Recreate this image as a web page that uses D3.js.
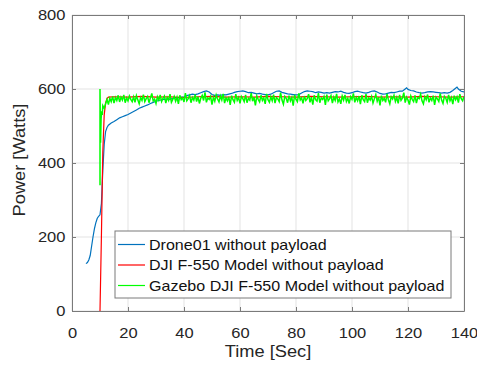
<!DOCTYPE html>
<html>
<head>
<meta charset="utf-8">
<script src="https://cdn.jsdelivr.net/npm/d3@7"></script>
<style>
  body { margin: 0; background: #fff; }
  svg { font-family: "Liberation Sans", Arial, sans-serif; }
</style>
</head>
<body>
<div id="chart"></div>
<script>
// DATA
var xTicks = [0, 20, 40, 60, 80, 100, 120, 140];
var yTicks = [0, 200, 400, 600, 800];
var seriesNames = ["Drone01 without payload", "DJI F-550 Model without payload", "Gazebo DJI F-550 Model without payload"];
var seriesColors = ["#0072BD", "#FF0000", "#00FF00"];

// Drone01 (time, power)
var blueTime = [5, 5.5, 6, 6.5, 7, 7.5, 8, 8.5, 9, 9.5, 10, 10.5, 11, 11.5, 12, 12.5, 13, 14, 15, 16, 17, 18, 19, 20,
  21, 22, 23, 24, 25, 26, 27, 28, 29, 30, 31, 32, 33, 34, 35, 36, 37, 38, 39, 40,
  41, 42, 43, 44, 45, 46, 47, 48, 49, 50, 51, 52, 53, 54, 55, 56, 57, 58, 59, 60,
  61, 62, 63, 64, 65, 66, 67, 68, 69, 70, 71, 72, 73, 74, 75, 76, 77, 78, 79, 80,
  81, 82, 83, 84, 85, 86, 87, 88, 89, 90, 91, 92, 93, 94, 95, 96, 97, 98, 99, 100,
  101, 102, 103, 104, 105, 106, 107, 108, 109, 110, 111, 112, 113, 114, 115, 116, 117, 118, 119, 119.5, 120,
  121, 122, 123, 124, 125, 126, 127, 128, 129, 130, 131, 132, 133, 134, 135, 136, 137, 137.5, 138, 139, 140];
var bluePower = [128, 131, 138, 150, 175, 200, 222, 238, 250, 256, 260, 290, 380, 450, 485, 496, 502, 508, 512, 517, 522, 525, 528, 531,
  535, 539, 543, 548, 551, 554, 557, 561, 564, 567, 569, 571, 572, 573, 572, 575, 577, 576, 578, 579,
  582, 584, 586, 585, 587, 590, 593, 595, 592, 585, 583, 584, 583, 585, 584, 586, 588, 591, 593, 594,
  595, 593, 590, 591, 589, 587, 588, 586, 585, 584, 586, 590, 594, 595, 591, 589, 587, 586, 585, 584,
  585, 589, 593, 595, 594, 593, 590, 592, 591, 589, 590, 589, 591, 593, 592, 594, 591, 589, 588, 590,
  593, 594, 592, 590, 589, 591, 594, 595, 592, 588, 586, 587, 589, 591, 590, 592, 594, 594, 600, 603, 599,
  596, 595, 592, 590, 589, 590, 592, 593, 592, 591, 590, 589, 590, 589, 591, 596, 602, 605, 600, 594, 592];

// DJI F-550 model (time, power)
var redTime = [10, 10.5, 11, 11.5, 12, 12.5, 13, 15, 20, 25, 30, 35, 40, 45, 50, 55, 60, 65, 70, 75, 80, 85, 90,
  95, 100, 105, 110, 115, 120, 125, 130, 135, 140];
var redPower = [0, 200, 430, 530, 562, 574, 578, 579, 578, 580, 578, 579, 577, 579, 580, 578, 579, 578, 580, 579, 578, 580, 579,
  578, 579, 580, 578, 579, 578, 580, 579, 578, 579];

// Gazebo model: start-up transient (time, power)
var greenStartTime = [10, 10, 10.2, 10.4, 10.6, 10.8, 11, 11.5];
var greenStartPower = [340, 600, 455, 520, 540, 530, 555, 548];
// Gazebo model: logged every 0.5 s from t = 12 s
var greenStep = 0.5, greenT0 = 12;
var greenPower = [
  560, 572, 558, 575, 566, 580, 562, 577, 569, 583,
  565, 578, 570, 584, 563, 576, 568, 581, 572, 566,
  579, 564, 582, 571, 560, 577, 569, 585, 566, 574,
  580, 563, 576, 588, 568, 573, 561, 579, 570, 584,
  566, 575, 581, 562, 577, 569, 586, 564, 572, 580,
  567, 578, 560, 583, 571, 576, 565, 589, 568, 574,
  582, 563, 577, 570, 585, 566, 579, 561, 575, 583,
  569, 591, 564, 576, 572, 580, 558, 578, 567, 584,
  573, 565, 581, 570, 587, 562, 576, 568, 579, 557,
  582, 571, 564, 586, 569, 577, 561, 580, 574, 566,
  584, 563, 575, 570, 589, 567, 578, 556, 581, 572,
  565, 583, 569, 576, 560, 587, 571, 564, 579, 568,
  585, 562, 577, 573, 566, 590, 570, 559, 580, 575,
  563, 582, 568, 577, 555, 584, 572, 566, 588, 570,
  576, 561, 581, 569, 574, 586, 564, 578, 558, 583,
  571, 567, 589, 563, 576, 572, 580, 557, 585, 568,
  574, 582, 562, 578, 569, 587, 565, 573, 560, 581,
  570, 584, 566, 575, 561, 579, 572, 588, 564, 577,
  568, 581, 559, 583, 571, 566, 586, 563, 576, 570,
  580, 562, 574, 585, 567, 578, 556, 582, 569, 575,
  564, 587, 571, 560, 579, 573, 583, 566, 577, 561,
  584, 569, 575, 590, 563, 578, 570, 558, 581, 572,
  566, 583, 562, 577, 574, 586, 568, 560, 579, 571,
  585, 564, 576, 569, 582, 557, 578, 573, 566, 588,
  570, 561, 580, 575, 564, 584, 568, 577, 559, 582,
  571, 579, 563, 586, 574, 568, 580];

// LAYOUT
var W = 477, H = 369;
var margin = { top: 15, right: 13, bottom: 58, left: 72 },
    width = W - margin.left - margin.right,
    height = H - margin.top - margin.bottom;
var stretch = 1.1; // the original font runs a bit wider than Arial

var svg = d3.select("#chart").append("svg")
    .attr("width", W)
    .attr("height", H);

var g = svg.append("g")
    .attr("transform", "translate(" + margin.left + "," + margin.top + ")");

var x = d3.scaleLinear().domain([0, 140]).range([0, width]);
var y = d3.scaleLinear().domain([0, 800]).range([height, 0]);

// grid
g.selectAll(".vgrid").data(xTicks).enter().append("line")
    .attr("x1", function(d) { return x(d); })
    .attr("x2", function(d) { return x(d); })
    .attr("y1", 0).attr("y2", height)
    .attr("stroke", "#e3e3e3").attr("stroke-width", 1);
g.selectAll(".hgrid").data(yTicks).enter().append("line")
    .attr("y1", function(d) { return y(d); })
    .attr("y2", function(d) { return y(d); })
    .attr("x1", 0).attr("x2", width)
    .attr("stroke", "#e3e3e3").attr("stroke-width", 1);

// clip
svg.append("defs").append("clipPath").attr("id", "clip")
    .append("rect").attr("width", width).attr("height", height);

var plot = g.append("g").attr("clip-path", "url(#clip)");

var line = d3.line()
    .x(function(d) { return x(d[0]); })
    .y(function(d) { return y(d[1]); });

var blueData = blueTime.map(function(t, i) { return [t, bluePower[i]]; });
var redData = redTime.map(function(t, i) { return [t, redPower[i]]; });
var greenData = greenStartTime.map(function(t, i) { return [t, greenStartPower[i]]; });
greenPower.forEach(function(v, i) { greenData.push([greenT0 + i * greenStep, v]); });

plot.append("path").datum(blueData)
    .attr("d", line).attr("fill", "none")
    .attr("stroke", seriesColors[0]).attr("stroke-width", 1.2);
plot.append("path").datum(redData)
    .attr("d", line).attr("fill", "none")
    .attr("stroke", seriesColors[1]).attr("stroke-width", 1.2);
plot.append("path").datum(greenData)
    .attr("d", line).attr("fill", "none")
    .attr("stroke", seriesColors[2]).attr("stroke-width", 1.5);

// axes (box with inward ticks on all sides)
var tickCol = "#262626";
var xb = g.append("g").attr("transform", "translate(0," + height + ")")
    .call(d3.axisBottom(x).tickValues(xTicks).tickSizeInner(-4).tickSizeOuter(0).tickPadding(16));
var xt = g.append("g")
    .call(d3.axisTop(x).tickValues(xTicks).tickSizeInner(-4).tickSizeOuter(0).tickFormat(""));
var yl = g.append("g")
    .call(d3.axisLeft(y).tickValues(yTicks).tickSizeInner(-4).tickSizeOuter(0).tickPadding(6));
var yr = g.append("g").attr("transform", "translate(" + width + ",0)")
    .call(d3.axisRight(y).tickValues(yTicks).tickSizeInner(-4).tickSizeOuter(0).tickFormat(""));

[xb, xt, yl, yr].forEach(function(a) {
    a.select(".domain").attr("stroke", "#7a7a7a");
    a.selectAll(".tick line").attr("stroke", "#7a7a7a");
    a.selectAll("text").attr("fill", tickCol).style("font-size", "15px")
        .style("font-family", "'Liberation Sans', Arial, sans-serif")
        .attr("transform", "scale(" + stretch + ",1)");
});

// axis labels
svg.append("text")
    .attr("transform", "translate(" + (margin.left + width / 2) + ",357) scale(" + stretch + ",1)")
    .attr("text-anchor", "middle").attr("fill", tickCol)
    .style("font-size", "16.6px").text("Time [Sec]");
svg.append("text")
    .attr("transform", "translate(25,160) rotate(-90) scale(" + stretch + ",1)")
    .attr("text-anchor", "middle").attr("fill", tickCol)
    .style("font-size", "16.6px").text("Power [Watts]");

// legend
var leg = svg.append("g").attr("transform", "translate(115,231)");
leg.append("rect").attr("width", 336).attr("height", 67)
    .attr("fill", "#fff").attr("stroke", "#7a7a7a").attr("stroke-width", 1);
seriesNames.forEach(function(name, i) {
    var yy = 13.5 + i * 20.5;
    leg.append("line").attr("x1", 3).attr("x2", 30).attr("y1", yy).attr("y2", yy)
        .attr("stroke", seriesColors[i]).attr("stroke-width", 1.2);
    leg.append("text")
        .attr("transform", "translate(34," + (yy + 5) + ") scale(1.115,1)")
        .attr("fill", "#111").style("font-size", "14.4px").text(name);
});
</script>
</body>
</html>
